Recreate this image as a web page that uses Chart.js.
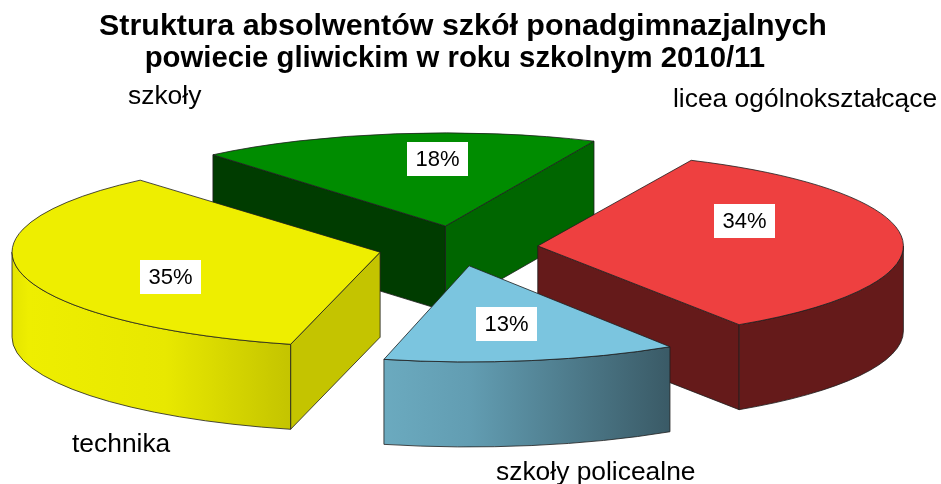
<!DOCTYPE html>
<html>
<head>
<meta charset="utf-8">
<script src="https://cdn.jsdelivr.net/npm/chart.js@4/dist/chart.umd.min.js"></script>
<style>
  html, body { margin: 0; padding: 0; background: #fff; }
  canvas { display: block; }
</style>
</head>
<body>
<canvas id="pie" width="941" height="484"></canvas>
<script>
// Dane
var categories = ['licea ogólnokształcące', 'szkoły policealne', 'technika', 'szkoły'];
var values = [34, 13, 35, 18];

// Kolory
var topColors = ['#EE4040', '#7BC5DF', '#EEEE00', '#008C00'];
var startFaceColors = ['#651A1A', '#3A5A66', '#C4C400', '#003C00'];
var endFaceColors = ['#651A1A', '#3A5A66', '#C4C400', '#006600'];
var wallStops = [
    [[0, '#651A1A'], [1, '#651A1A']],
    [[0, '#6BAABF'], [0.3, '#629DB2'], [1, '#3A5A66']],
    [[0, '#E4E400'], [0.06, '#EEEE00'], [0.55, '#E8E800'], [1, '#C4C400']],
    [[0, '#006600'], [1, '#006600']]
];

// Uklad rysunku
var centerX = 457;
var centerY = 247.5;
var squash = 0.258;
var depth = 85;
var outlineColor = 'rgba(30,30,30,0.8)';
var drawOrder = [3, 2, 0, 1];
var percentBoxes = [[714, 204], [476, 307], [140, 260], [407, 142]];
var boxWidth = 61;
var boxHeight = 34;
var nameLabels = [[673, 107], [496, 480], [72, 452], [128, 104]];

function sliceGeometry(arc) {
    var mid = (arc.startAngle + arc.endAngle) / 2;
    // to samo przesuniecie co w ArcElement.draw / pathArc
    var offset = arc.options.offset / 4;
    var fix = 1 - Math.sin(Math.min(Math.PI, arc.circumference));
    var radiusOffset = offset * fix;
    var r = arc.outerRadius + radiusOffset;
    var angleOffset = radiusOffset / Math.PI / r / 2;
    return {
        x: centerX + Math.cos(mid) * offset,
        y: centerY + Math.sin(mid) * offset * squash,
        r: r,
        start: arc.startAngle + angleOffset,
        end: arc.endAngle - angleOffset
    };
}

function cutFace(ctx, g, angle, color) {
    var px = g.x + Math.cos(angle) * g.r;
    var py = g.y + Math.sin(angle) * g.r * squash;
    ctx.beginPath();
    ctx.moveTo(g.x, g.y);
    ctx.lineTo(px, py);
    ctx.lineTo(px, py + depth);
    ctx.lineTo(g.x, g.y + depth);
    ctx.closePath();
    ctx.fillStyle = color;
    ctx.fill();
    ctx.stroke();
}

function outerWall(ctx, g, stops) {
    var a1 = Math.max(g.start, 0);
    var a2 = Math.min(g.end, Math.PI);
    if (a2 <= a1) return;
    var x1 = g.x + Math.cos(a2) * g.r;
    var x2 = g.x + Math.cos(a1) * g.r;
    var grad = ctx.createLinearGradient(x1, 0, x2, 0);
    stops.forEach(function (s) { grad.addColorStop(s[0], s[1]); });
    ctx.beginPath();
    ctx.ellipse(g.x, g.y, g.r, g.r * squash, 0, a1, a2);
    ctx.ellipse(g.x, g.y + depth, g.r, g.r * squash, 0, a2, a1, true);
    ctx.closePath();
    ctx.fillStyle = grad;
    ctx.fill();
    ctx.stroke();
}

var pie3d = {
    id: 'pie3d',
    beforeDatasetsDraw: function (chart) {
        var ctx = chart.ctx;
        var arcs = chart.getDatasetMeta(0).data;
        ctx.save();
        ctx.strokeStyle = outlineColor;
        ctx.lineWidth = 1;
        ctx.lineJoin = 'round';
        drawOrder.forEach(function (i) {
            var g = sliceGeometry(arcs[i]);
            if (Math.sin(g.start - Math.PI / 2) > 0) cutFace(ctx, g, g.start, startFaceColors[i]);
            if (Math.sin(g.end + Math.PI / 2) > 0) cutFace(ctx, g, g.end, endFaceColors[i]);
            outerWall(ctx, g, wallStops[i]);
        });
        ctx.restore();
        // splaszczenie kola, wierzch rysuje juz sam Chart.js
        ctx.save();
        ctx.translate(centerX, centerY);
        ctx.scale(1, squash);
        ctx.translate(-arcs[0].x, -arcs[0].y);
    },
    afterDatasetsDraw: function (chart) {
        var ctx = chart.ctx;
        var arcs = chart.getDatasetMeta(0).data;
        ctx.restore();

        ctx.save();
        ctx.strokeStyle = outlineColor;
        ctx.lineWidth = 1;
        arcs.forEach(function (arc) {
            var g = sliceGeometry(arc);
            ctx.beginPath();
            ctx.moveTo(g.x, g.y);
            ctx.ellipse(g.x, g.y, g.r, g.r * squash, 0, g.start, g.end);
            ctx.closePath();
            ctx.stroke();
        });

        ctx.textBaseline = 'middle';
        ctx.textAlign = 'center';
        ctx.font = '22px "Liberation Sans"';
        values.forEach(function (v, i) {
            var b = percentBoxes[i];
            ctx.fillStyle = '#fff';
            ctx.fillRect(b[0], b[1], boxWidth, boxHeight);
            ctx.fillStyle = '#000';
            ctx.fillText(v + '%', b[0] + boxWidth / 2, b[1] + boxHeight / 2 + 1);
        });

        ctx.textBaseline = 'alphabetic';
        ctx.textAlign = 'left';
        ctx.font = '26.4px "Liberation Sans"';
        categories.forEach(function (name, i) {
            ctx.fillText(name, nameLabels[i][0], nameLabels[i][1]);
        });
        ctx.restore();
    }
};

var ctx = document.getElementById('pie').getContext('2d');
var chart = new Chart(ctx, {
    type: 'pie',
    data: {
        labels: categories,
        datasets: [{
            data: values,
            backgroundColor: topColors,
            borderWidth: 0,
            offset: [324, 288, 316, 336],
            clip: false
        }]
    },
    options: {
        responsive: false,
        animation: false,
        radius: 353,
        rotation: 24.5,
        layout: { padding: { right: 15 } },
        plugins: {
            legend: { display: false },
            tooltip: { enabled: false },
            title: {
                display: true,
                text: 'Struktura absolwentów szkół ponadgimnazjalnych',
                color: '#000',
                font: { family: '"Liberation Sans"', size: 30.4, weight: 'bold', lineHeight: 1.06 },
                padding: { top: 11, bottom: 0 }
            },
            subtitle: {
                display: true,
                text: 'powiecie gliwickim w roku szkolnym 2010/11\u00A0\u00A0',
                color: '#000',
                font: { family: '"Liberation Sans"', size: 29.3, weight: 'bold', lineHeight: 1.06 },
                padding: 0
            }
        }
    },
    plugins: [pie3d]
});
</script>
</body>
</html>
